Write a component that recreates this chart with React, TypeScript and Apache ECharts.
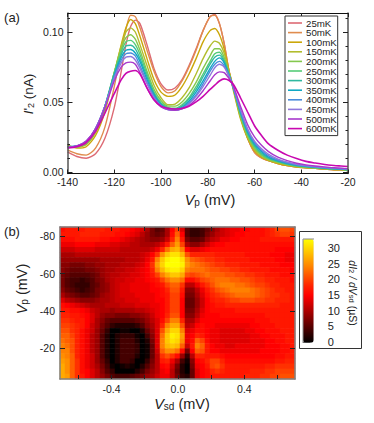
import React, { useEffect, useRef } from "react";
import * as echarts from "echarts";

const FONT = "'Liberation Sans', Arial, sans-serif";

const vp = [-140,-136,-132,-128,-124,-120,-117,-115,-113,-111,-109,-106,-103,-100,-97,-94,-91,-88,-85,-82,-79,-77,-75,-73,-71,-69,-66,-63,-60,-57,-54,-50,-46,-42,-38,-34,-30,-26,-23,-20];
// currents in pA
const t25 = [14.3,11,9.8,13,24,46,72,91,104,108.5,106,91,74,63,58.5,60,66,76,88,101,111,112.5,106,92,73,60,40,24.5,14,10,8,6,4.5,3.5,3,2.5,2,1.5,1.5,1];
const t50 = [15.7,13,12,17,32,61,86,102,112,111,103,87,72,61,56.5,58,65,75,87,101,111,112,106,92,73,60,40,24.5,14,10,8,6,4.5,3.5,3,2.5,2,1.5,1.5,1];
const t100 = [19.3,17,18,26,43,70,91,103,109,106,97,81,66,57,54,55,61,70,81,93,101,102.5,98,88,73,58,38,24,15,10.5,8,6,4.5,3.5,3,2.5,2,1.5,1.5,1];
const t150 = [18.5,17.5,19.5,28,45,71,90,100,103,100,91,76,62,53,48,48.5,53,60,70,81,90,93.5,92,85,72,59,39,25,16,11,8.5,6.5,5,4,3.2,2.8,2.3,1.8,1.7,1.2];
const t200 = [18,18,20,29,46,71,88,96,98,95,87,72,59,51,47,47,50,56,64,74,83,88,88,82,71,60,40,26,17,12,9,7,5.2,4,3.4,2.9,2.4,1.9,1.8,1.3];
const t250 = [18,18,21,30,47,71,86,93,94,91,84,70,57,49.5,46,45.5,48,53,61,70,79,84.5,85.5,80,70,60,41,27,18,12.5,9.5,7.3,5.5,4.3,3.6,3,2.5,2,1.9,1.4];
const t300 = [18,18.5,21,30,47,70,84,90,90.5,88,81,68,56,48.5,45.5,45,47,52,59,68,77,82,83.5,79,70,60,42,28,19,13.5,10,7.6,5.8,4.6,3.8,3.2,2.7,2.2,2,1.5];
const t350 = [18,18.5,21.5,31,47,69,82,87,87.5,85,79,66,55,48,45,44.5,46,50.5,57,65,74,79,81.5,78,69.5,60,43,29,20,14.5,10.5,8,6.1,4.8,4,3.4,2.8,2.3,2.1,1.6];
const t400 = [17.5,18.5,21.5,31,47,68,80,84.5,85,83,76,64,54,47.5,44.5,44,45.5,49.5,55,63,72,77,79,76,69,60,43.5,30,21,15.5,11.5,8.5,6.5,5.1,4.2,3.5,3,2.5,2.2,1.8];
const t450 = [17.5,18.5,22,31,47,67,78,82,82.5,80,74,63,53,47,44.5,44,45,48.5,54,61,69,74.5,77,75,68.5,60.5,45,31,22,16.5,12.5,9.2,7,5.5,4.5,3.8,3.2,2.7,2.4,2];
const t500 = [17.5,18.5,22,31,46,65,75,78,78.5,77,71,60,51.5,46.5,44.5,44,45,47.5,52,58,65,69.5,71.5,71,67,61,47,34,25,19,14.5,10.5,8,6.2,5,4.2,3.6,3,2.7,2.3];
const t600 = [17,18,21,29,42,56,66,70.5,72,72.5,70,60,51.5,47,45.5,45,45.5,47,50,54,59,62,65,66.5,65.5,62.5,53,43,33,26,20,15.5,12,9.5,7.5,6.3,5.3,4.6,4.2,3.8];

const curves = [t25,t50,t100,t150,t200,t250,t300,t350,t400,t450,t500,t600];
const tempNames = ["25mK","50mK","100mK","150mK","200mK","250mK","300mK","350mK","400mK","450mK","500mK","600mK"];
const tempColors = ["#dd6a74","#e08c4e","#cba70a","#b2bd2e","#84c84e","#55cc78","#30b8a0","#10a8c4","#4a8cdc","#8f78dc","#a838cc","#c808b0"];

// dI2/dVsd (uS), rows top (-85 mV) to bottom (-3 mV), columns left (-0.7 mV) to right (+0.7 mV)
const heat = [
[16,17,17,17,17,18,18,18,18,17,17,17,16,16,15,14,13,10,7,5,6,10,15,20,13,5,3,3,4,6,8,10,12,13,14,14,15,15,16,16,16,17,18,20,21,21,20],
[17,17,17,17,18,18,18,18,17,17,17,16,16,15,14,13,11,9,7,6,7,10,16,22,15,5,3,3,4,7,9,11,12,13,14,15,15,16,16,16,16,17,18,19,20,20,19],
[16,16,16,17,17,17,17,17,16,16,15,15,14,13,12,11,10,9,8,8,9,12,18,24,17,7,5,5,6,9,11,12,14,14,15,15,16,16,16,16,17,17,17,17,17,17,17],
[14,14,14,15,15,15,15,14,14,14,13,13,12,12,11,11,10,10,10,11,13,17,22,26,20,10,8,8,10,12,14,15,15,16,16,16,16,16,16,16,16,16,16,16,16,16,16],
[12,12,12,13,13,13,13,12,12,12,12,12,11,11,11,11,11,11,12,14,18,23,27,28,24,15,13,13,14,15,16,16,16,16,16,16,16,16,16,16,16,16,16,15,15,15,15],
[10,10,10,11,11,11,11,11,11,11,11,11,11,11,11,11,12,13,15,19,25,29,31,31,28,21,18,18,18,18,18,17,17,17,17,17,17,16,16,16,16,16,15,15,15,14,14],
[9,9,9,9,9,9,9,9,10,10,10,10,10,11,11,11,12,14,17,24,29,32,33,33,31,25,22,21,20,19,19,18,18,17,17,17,17,17,16,16,16,16,16,15,15,14,14],
[8,8,7,7,7,8,8,9,9,10,10,10,11,11,11,12,13,15,19,26,30,33,33,33,32,26,24,23,22,21,20,19,19,18,18,18,17,17,17,17,16,16,16,16,15,15,15],
[8,7,6,6,6,7,7,8,9,10,10,11,11,12,12,13,14,15,18,24,28,31,32,32,30,24,23,23,23,22,21,21,20,20,19,19,18,18,17,17,17,17,16,16,16,16,15],
[7,6,5,5,5,5,6,7,9,10,11,11,12,12,13,13,14,15,17,20,24,27,29,29,27,21,20,21,22,23,22,22,22,21,21,20,20,19,19,18,18,17,17,17,16,16,16],
[7,5,4,4,3,4,5,7,8,10,11,12,12,13,13,14,14,15,16,17,20,23,25,25,23,16,16,18,20,21,22,23,23,23,22,22,21,21,20,19,19,18,18,17,17,17,16],
[7,5,4,3,3,3,5,6,8,9,11,12,13,13,14,14,14,14,15,16,17,20,22,22,19,11,11,14,17,19,21,23,24,24,24,23,23,22,21,20,20,19,18,18,17,17,17],
[8,6,5,4,3,4,5,7,8,9,11,12,13,13,14,14,14,14,15,15,16,18,21,21,17,8,8,11,14,17,19,21,22,23,24,24,24,24,23,22,21,20,19,18,18,17,17],
[10,8,7,6,5,5,6,7,9,10,11,12,13,13,13,14,14,14,14,15,16,17,20,20,16,7,7,10,13,16,18,19,20,21,22,23,23,23,23,22,21,20,19,19,18,18,17],
[13,11,10,9,8,8,8,9,10,10,11,12,12,13,13,13,14,14,14,15,15,17,20,20,15,6,6,9,12,15,17,18,18,19,20,20,21,21,21,20,20,19,19,18,18,18,17],
[16,15,14,13,12,11,10,10,10,11,11,11,12,12,12,13,13,13,14,14,15,17,20,20,15,6,6,9,12,15,16,17,17,18,18,18,18,18,18,18,18,18,18,18,17,17,17],
[17,17,16,16,15,14,12,11,10,10,9,10,10,10,10,11,11,12,13,14,15,17,20,20,15,7,7,10,13,15,16,16,16,16,16,17,17,17,17,17,17,17,17,17,17,17,17],
[18,18,17,17,16,15,13,11,9,8,8,7,7,7,8,8,9,10,12,14,15,18,21,21,15,8,8,11,14,15,15,15,16,16,16,16,16,16,16,16,16,17,17,17,17,17,17],
[19,19,18,17,17,15,13,10,8,6,5,5,5,5,5,6,7,9,11,13,16,20,24,24,18,10,10,13,15,15,15,15,15,15,15,15,15,15,15,16,16,16,17,17,17,17,17],
[20,20,19,18,17,15,12,10,7,5,3,2,2,2,2,3,5,8,10,13,18,24,27,27,21,11,12,15,16,15,15,14,14,14,14,14,14,14,15,15,16,16,16,17,17,17,17],
[21,21,19,18,16,14,12,9,6,3,0,0,1,1,0,0,2,6,9,13,21,27,30,30,24,13,14,16,16,15,14,14,13,13,13,13,13,14,14,15,15,16,16,16,17,17,17],
[22,22,20,18,16,14,11,9,5,2,0,2,3,3,3,1,0,4,8,13,23,29,32,31,26,14,15,18,17,15,14,14,13,13,13,13,13,13,14,14,15,15,16,16,16,17,17],
[23,22,21,18,16,14,11,9,5,2,0,2,4,4,4,2,0,2,7,13,24,29,31,30,25,14,16,22,20,16,14,14,13,13,13,13,13,13,14,14,14,15,15,16,16,17,17],
[24,23,21,18,16,14,11,9,5,2,0,2,4,4,4,3,0,1,6,13,24,28,29,28,22,12,17,24,22,17,15,14,14,13,13,14,14,14,14,14,14,15,15,15,16,16,17],
[24,24,21,18,16,14,11,9,5,2,0,2,4,4,4,3,0,1,6,12,22,25,25,23,16,7,15,22,21,17,15,15,14,14,14,14,14,14,14,14,15,15,15,15,16,16,17],
[25,24,22,18,16,14,12,9,5,2,0,2,4,4,4,2,0,1,6,11,19,21,19,16,9,3,11,18,18,17,17,17,16,15,15,15,15,15,15,15,15,15,15,16,16,17,17],
[26,25,22,19,16,14,12,9,6,3,0,2,4,4,3,0,0,3,7,11,17,18,14,10,4,1,8,15,16,18,20,20,18,16,16,16,16,16,16,16,16,16,16,17,17,18,18],
[27,25,22,19,16,14,12,10,7,4,1,0,1,2,1,0,2,5,8,11,15,16,12,7,2,0,7,14,15,17,20,21,19,17,17,17,17,17,17,17,17,18,18,19,19,19,19],
[27,25,22,19,16,15,13,11,8,5,3,0,0,0,0,2,4,7,9,11,14,15,11,6,2,0,6,13,15,16,18,19,18,17,17,17,17,17,18,18,18,19,19,20,20,20,20],
[27,26,22,19,17,15,13,11,9,7,5,4,4,4,5,6,7,9,10,12,14,14,11,7,3,2,6,13,15,16,17,17,17,17,17,17,17,18,18,18,19,19,20,20,21,21,21],
];

const aMajorX = [-140,-120,-100,-80,-60,-40,-20];
const aMajorY = [0,0.05,0.1];
const aMinorY = [0.01,0.02,0.03,0.04,0.06,0.07,0.08,0.09,0.11];
const bTicksX = [-0.6,-0.4,-0.2,0,0.2,0.4,0.6];
const bLabelsX = [-0.4,0,0.4];
const bTicksY = [-80,-60,-40,-20];
const cbTicks = [0,5,10,15,20,25,30];
const hotColors = ["#000000","#330000","#660000","#990000","#cc0000","#ff0000","#ff2200","#ff5000","#ff8000","#ffaa00","#ffd500","#ffff00"];

const INK = "#222";
const GREY = "#808080";

function valueAxisBase(extra: any) {
  return {
    type: "value",
    scale: true,
    splitLine: { show: false },
    z: 5,
    ...extra,
  };
}

function txt(x: number, y: number, text: string, rich: any, extra: any = {}) {
  return {
    type: "text",
    x,
    y,
    z: 20,
    style: { text, rich, fill: INK, fontFamily: FONT, align: "center", verticalAlign: "middle", ...extra.style },
    ...(extra.rotation !== undefined ? { rotation: extra.rotation } : {}),
  };
}

function richSet(size: number, subSize: number) {
  const base = { fontFamily: FONT, fill: INK, fontSize: size, lineHeight: size + 3, verticalAlign: "bottom" };
  return {
    n: { ...base },
    i: { ...base, fontStyle: "italic" },
    s: { ...base, fontSize: subSize, lineHeight: subSize + 1 },
  };
}

export default function App() {
  const ref = useRef<HTMLDivElement>(null);
  useEffect(() => {
    const chart = echarts.init(ref.current!, undefined, { renderer: "svg" });
    const lineSeries = curves.map((c, k) => ({
      type: "line",
      name: tempNames[k],
      xAxisIndex: 0,
      yAxisIndex: 0,
      data: c.map((v, i) => [vp[i], v / 1000]),
      showSymbol: false,
      smooth: 0.25,
      lineStyle: { width: k === 11 ? 1.6 : 1.4, color: tempColors[k] },
      itemStyle: { color: tempColors[k] },
      z: 3,
    }));
    const heatData: number[][] = [];
    heat.forEach((row, r) => row.forEach((v, c) => heatData.push([c, r, v])));
    const lineTick = (values: number[], len: number, color = INK) => ({
      show: true, inside: true, length: len, customValues: values, lineStyle: { color, width: 1 },
    });
    const noLabel = { show: false };
    const aX = { min: -140, max: -20, gridIndex: 0 };
    const aY = { min: -0.00115, max: 0.1136, gridIndex: 0 };
    const bX = { min: -0.71, max: 0.705, gridIndex: 2 };
    const bY = { min: -85, max: -3.4, inverse: true, gridIndex: 2 };
    const labelStyle = { color: INK, fontFamily: FONT, fontSize: 10.5 };
    const line = (color: string, width: number) => ({ show: true, onZero: false, lineStyle: { color, width } });
    chart.setOption({
      animation: false,
      backgroundColor: "#fff",
      grid: [
        { left: 67.5, top: 13, width: 280.5, height: 160.5 },
        { left: 60, top: 227, width: 235, height: 152 },
        { left: 60, top: 227, width: 235, height: 152 },
        { left: 303, top: 239, width: 10.7, height: 103.7 },
      ],
      legend: {
        left: 285, top: 16, orient: "vertical", data: tempNames, icon: "rect",
        itemWidth: 14, itemHeight: 1.6, itemGap: -0.4, padding: [2, 1, 2, 3],
        backgroundColor: "#fff", borderColor: "#333", borderWidth: 1, borderRadius: 0,
        textStyle: { fontFamily: FONT, fontSize: 9.7, color: INK, lineHeight: 9, padding: [0, 0, 0, -1] },
        selectedMode: false, z: 10,
      },
      visualMap: {
        type: "continuous", min: 0, max: 33, seriesIndex: 12, left: 303, top: 239,
        itemWidth: 10.7, itemHeight: 103.7, padding: 0, calculable: false, showLabel: false,
        inRange: { color: hotColors }, realtime: false, hoverLink: false, z: 6,
      },
      xAxis: [
        valueAxisBase({ ...aX, position: "bottom", axisLine: line("#111", 1), axisTick: lineTick(aMajorX, 4), axisLabel: { ...labelStyle, customValues: aMajorX, margin: 2.5 } }),
        valueAxisBase({ ...aX, position: "top", axisLine: line("#111", 1), axisTick: lineTick(aMajorX, 4), axisLabel: noLabel }),
        { type: "category", gridIndex: 1, show: false, data: heat[0].map((_, i) => i) },
        valueAxisBase({ ...bX, position: "bottom", axisLine: line(GREY, 1.5), axisTick: lineTick(bTicksX, 4), axisLabel: { ...labelStyle, customValues: bLabelsX, margin: 4, formatter: (v: number) => v.toFixed(1) } }),
        valueAxisBase({ ...bX, position: "top", axisLine: line(GREY, 1.5), axisTick: lineTick(bTicksX, 4), axisLabel: noLabel }),
        { type: "value", gridIndex: 3, show: false, min: 0, max: 1 },
      ],
      yAxis: [
        valueAxisBase({ ...aY, position: "left", axisLine: line("#555", 1.5), axisTick: lineTick(aMajorY, 5), axisLabel: { ...labelStyle, customValues: aMajorY, margin: 4, formatter: (v: number) => v.toFixed(2) } }),
        valueAxisBase({ ...aY, position: "left", axisLine: { show: false }, axisTick: lineTick(aMinorY, 2.5), axisLabel: noLabel }),
        valueAxisBase({ ...aY, position: "right", axisLine: line("#555", 1.5), axisTick: lineTick(aMajorY, 5), axisLabel: noLabel }),
        valueAxisBase({ ...aY, position: "right", axisLine: { show: false }, axisTick: lineTick(aMinorY, 2.5), axisLabel: noLabel }),
        { type: "category", gridIndex: 1, show: false, inverse: true, data: heat.map((_, i) => i) },
        valueAxisBase({ ...bY, position: "left", axisLine: line(GREY, 1.5), axisTick: lineTick(bTicksY, 5), axisLabel: { ...labelStyle, customValues: bTicksY, margin: 5 } }),
        valueAxisBase({ ...bY, position: "right", axisLine: line(GREY, 1.5), axisTick: lineTick(bTicksY, 5), axisLabel: noLabel }),
        valueAxisBase({ gridIndex: 3, min: -0.3, max: 33, position: "right", axisLine: { show: false },
          axisTick: { show: true, inside: false, length: 7, customValues: cbTicks, lineStyle: { color: "#555", width: 1 } },
          axisLabel: { ...labelStyle, customValues: cbTicks, margin: 14, fontSize: 11 } }),
      ],
      series: [
        ...lineSeries,
        { type: "heatmap", xAxisIndex: 2, yAxisIndex: 4, data: heatData, z: 2, emphasis: { disabled: true } },
      ],
      graphic: [
        txt(12, 16, "{n|(a)}", richSet(13, 9)),
        txt(12, 230, "{n|(b)}", richSet(13, 9)),
        txt(210, 199, "{i|V}{s|p}{n| (mV)}", richSet(14.5, 10)),
        txt(27, 94, "{i|I}{n|'}{s|2}{n| (nA)}", richSet(13.5, 9), { rotation: Math.PI / 2 }),
        txt(21, 289, "{i|V}{s|p}{n| (mV)}", richSet(14.5, 10), { rotation: Math.PI / 2 }),
        txt(182, 403, "{i|V}{s|sd}{n| (mV)}", richSet(14.5, 10)),
        txt(354, 293, "{i|dI}{s|2}{i| / dV}{s|sd}{n| (\u00b5S)}", richSet(10.5, 7.5), { rotation: -Math.PI / 2 }),
        { type: "rect", z: 15, shape: { x: 299.5, y: 231.5, width: 62, height: 117 }, style: { fill: "none", stroke: "#333", lineWidth: 1 } },
        { type: "polyline", z: 15, shape: { points: [[303, 343], [303, 239], [314, 239]] }, style: { fill: "none", stroke: "#888", lineWidth: 1 } },
      ],
    });
    return () => chart.dispose();
  }, []);
  return <div ref={ref} style={{ position: "absolute", left: 0, top: 0, width: 374, height: 423 }} />;
}
